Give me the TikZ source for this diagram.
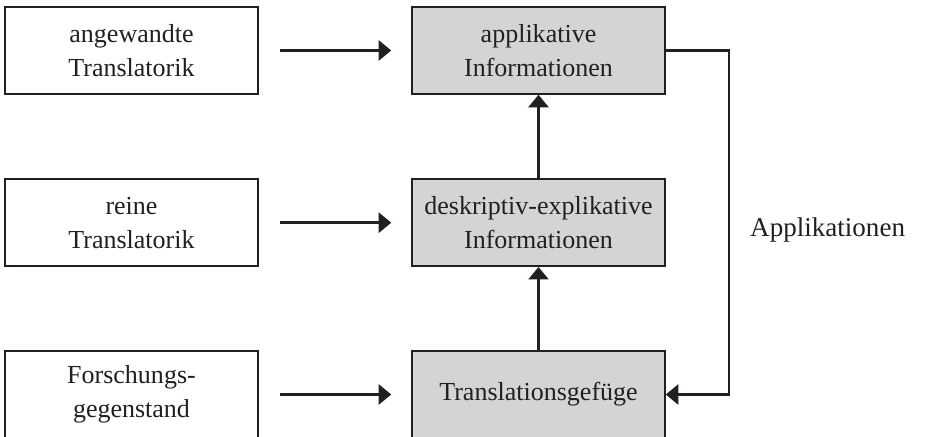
\documentclass[tikz,border=0pt]{standalone}
\usepackage{fontspec}
\setmainfont{Liberation Serif}
\usepackage{tikz}
\usetikzlibrary{arrows.meta, positioning}
\definecolor{boxgray}{RGB}{211,212,214}
\definecolor{linegray}{RGB}{35,31,32}

\begin{document}
\begin{tikzpicture}[x=0.02cm, y=-0.02cm, -{Triangle[length=0.25cm, width=0.4cm]}, line width=1.4pt, draw=linegray,
    font=\fontsize{14.8}{19.5}\selectfont, text=linegray,
    box/.style={draw=linegray, line width=0.9pt, minimum width=5.06cm, minimum height=1.74cm, align=center, inner sep=0pt},
    infobox/.style={box, fill=boxgray}]
    \useasboundingbox (0,0) rectangle (926,436);
    \clip (0,0) rectangle (926,436);
    	\node[box] (angew) at (131.5,50.5) {angewandte\\Translatorik};
    	\node[box] (rein) at (131.5,222.7) {reine\\Translatorik};
    	\node[box] (forsch) at (131.5,394.5) {Forschungs-\\gegenstand};
    	\node[infobox] (appl) at (538.5,50.5) {applikative\\Informationen};
    	\node[infobox] (deskr) at (538.5,222.7) {deskriptiv-explikative\\Informationen};
    	\node[infobox] (transl) at (538.5,394.5) {Translationsgefüge};
    	\node[anchor=west, inner sep=0pt, font=\fontsize{15.4}{19.5}\selectfont] (applik) at (749,230) {Applikationen};
    	\draw[shorten <=0.42cm, shorten >=0.4cm] (angew) -- (appl);
    	\draw[shorten <=0.42cm, shorten >=0.4cm] (rein) -- (deskr);
    	\draw[shorten <=0.42cm, shorten >=0.4cm] (forsch) -- (transl);
    	\draw (transl) -- (deskr);
    	\draw (deskr) -- (appl);
    	\draw (appl.east) -- ++(63,0) |- (transl.east);
\end{tikzpicture}
\end{document}
